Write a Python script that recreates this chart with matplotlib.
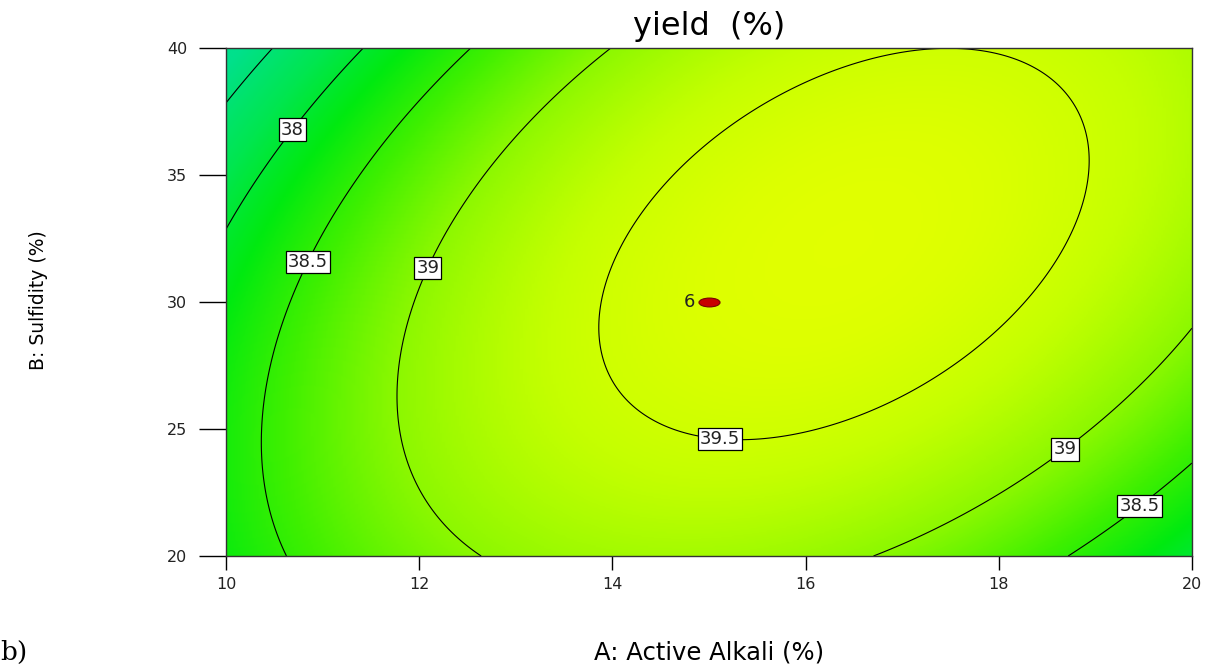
import numpy as np
import matplotlib
matplotlib.use("Agg")
import matplotlib.pyplot as plt
from matplotlib.colors import LinearSegmentedColormap, Normalize
from matplotlib.path import Path

# contour points: level, A (active alkali %), B (sulfidity %)
cl_level = [37.5, 37.5,
            38.0, 38.0, 38.0,
            38.5, 38.5, 38.5, 38.5, 38.5, 38.5,
            38.5, 38.5, 38.5,
            39.0, 39.0, 39.0, 39.0, 39.0, 39.0, 39.0,
            39.0, 39.0, 39.0,
            39.5, 39.5, 39.5, 39.5, 39.5, 39.5, 39.5, 39.5, 39.5, 39.5, 39.5]
cl_A = [10.0, 10.51,
        10.0, 11.42, 10.65,
        12.54, 11.15, 10.82, 10.59, 10.38, 10.61,
        20.0, 18.78, 19.42,
        14.01, 12.66, 12.05, 11.89, 11.78, 12.28, 12.59,
        20.0, 18.65, 16.83,
        17.44, 16.13, 14.90, 14.10, 13.86, 15.46, 15.12, 18.90, 18.75, 18.64, 17.30]
cl_B = [37.76, 40.0,
        32.7, 40.0, 36.9,
        40.0, 33.75, 31.63, 29.82, 24.57, 20.0,
        23.52, 20.0, 22.14,
        40.0, 33.75, 31.4, 29.82, 26.14, 21.94, 20.0,
        28.9, 24.37, 20.0,
        39.76, 39.26, 36.4, 32.44, 28.9, 24.45, 24.84, 35.98, 32.44, 32.05, 26.8]

contour_levels = [37.5, 38.0, 38.5, 39.0, 39.5]
label_pos = [(10.65, 36.9), (10.82, 31.63), (12.05, 31.4),
             (15.12, 24.84), (18.65, 24.37), (19.42, 22.14)]

# design point (centre point, 6 replicates)
pt_A = [15.0]
pt_B = [30.0]
pt_reps = [6]

a_range = (10, 20)
b_range = (20, 40)
x_ticks = [10, 12, 14, 16, 18, 20]
y_ticks = [20, 25, 30, 35, 40]


def coded(a, b):
    return (np.asarray(a) - 15.0) / 5.0, (np.asarray(b) - 30.0) / 10.0


def design(x, y):
    return np.column_stack([np.ones_like(x), x, y, x * x, y * y, x * y])


# quadratic response surface fitted to the read contour points
cx, cy = coded(cl_A, cl_B)
coef, *_ = np.linalg.lstsq(design(cx, cy), np.asarray(cl_level), rcond=None)

ga = np.linspace(a_range[0], a_range[1], 400)
gb = np.linspace(b_range[0], b_range[1], 400)
AA, BB = np.meshgrid(ga, gb)
gx, gy = coded(AA.ravel(), BB.ravel())
Z = (design(gx, gy) @ coef).reshape(AA.shape)

cmap = LinearSegmentedColormap.from_list("de", [
    (0.00, "#00e08c"),
    (0.20, "#00e650"),
    (0.36, "#00ea10"),
    (0.52, "#40f000"),
    (0.68, "#8cf800"),
    (0.84, "#c4ff00"),
    (0.94, "#dcff00"),
    (1.00, "#e8ff00"),
])
norm = Normalize(37.3, 39.8)

plt.rcParams["font.family"] = "DejaVu Sans"
fig = plt.figure(figsize=(12.17, 6.71), dpi=100)
ax = fig.add_axes([0.1857, 0.1714, 0.7937, 0.7571])

ax.imshow(Z, extent=(a_range[0], a_range[1], b_range[0], b_range[1]),
          origin="lower", aspect="auto", cmap=cmap, norm=norm,
          interpolation="bilinear")
cs = ax.contour(AA, BB, Z, levels=contour_levels, colors="black", linewidths=0.8)
labels = ax.clabel(cs, manual=label_pos, inline=False,
                   fontsize=13, fmt=lambda v: f"{v:g}", colors="#222222")
for t in labels:
    t.set_rotation(0)
    t.set_bbox(dict(boxstyle="square,pad=0.12", facecolor="white",
                    edgecolor="black", linewidth=0.9))

# red ellipse marker for the design point
circ = Path.unit_circle()
ell = Path(circ.vertices * np.array([1.0, 0.42]), circ.codes)
ax.scatter(pt_A, pt_B, marker=ell, s=230, color="#c80000",
           edgecolors="#7a0000", linewidths=0.8, zorder=5)
for a, b, n in zip(pt_A, pt_B, pt_reps):
    ax.annotate(str(n), (a, b), xytext=(-10, 0), textcoords="offset points",
                ha="right", va="center", fontsize=13, color="#222222")

ax.set_xlim(*a_range)
ax.set_ylim(*b_range)
ax.set_xticks(x_ticks)
ax.set_yticks(y_ticks)
ax.tick_params(axis="y", length=19.5, width=1.0, pad=8.5, labelsize=11.5,
               labelcolor="#222222")
ax.tick_params(axis="x", length=10, width=1.0, pad=5, labelsize=11.5,
               labelcolor="#222222")
for sp in ax.spines.values():
    sp.set_linewidth(1.0)
    sp.set_color("#333333")

ax.text(0.5, 1.026, "yield  (%)", transform=ax.transAxes, ha="center",
        va="baseline", fontsize=23)
ax.set_xlabel("A: Active Alkali (%)", fontsize=17.5)
ax.xaxis.set_label_coords(0.5, -0.167)
ax.set_ylabel("B: Sulfidity (%)", fontsize=13.5)
ax.yaxis.set_label_coords(-0.184, 0.504)

# panel letter, whose opening bracket is cropped away in the source
fig.text(0.0, 0.016, "b)", ha="left", va="baseline",
         family="DejaVu Serif", fontsize=19)

fig.savefig("out.png", dpi=100)
